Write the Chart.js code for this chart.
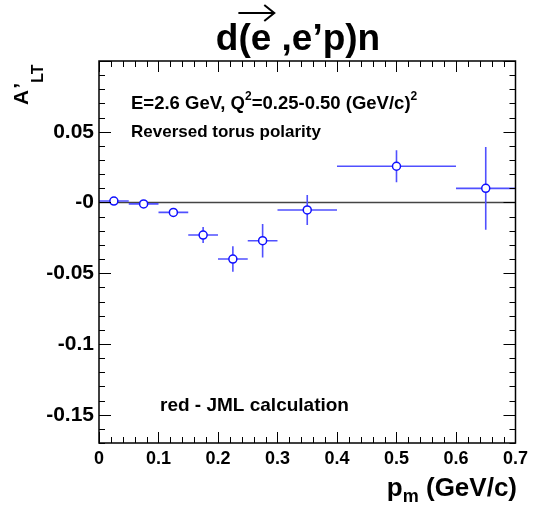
<!DOCTYPE html>
<html><head><meta charset="utf-8">
<script src="https://cdn.jsdelivr.net/npm/chart.js@4.4.1/dist/chart.umd.min.js"></script>
<style>html,body{margin:0;padding:0;background:#fff}#wrap{width:533px;height:506px}</style>
</head><body><div id="wrap"><canvas id="c"></canvas></div>
<script>
// ---- data ----
const pm     = [0.025, 0.075, 0.125, 0.175, 0.225, 0.275, 0.35, 0.5, 0.65];
const pmLow  = [0.0,   0.05,  0.1,   0.15,  0.2,   0.25,  0.3,  0.4, 0.6];
const pmHigh = [0.05,  0.1,   0.15,  0.2,   0.25,  0.3,   0.4,  0.6, 0.7];
const alt    = [0.001, -0.001, -0.007, -0.023, -0.040, -0.027, -0.0053, 0.0256, 0.010];
const altErr = [0.001, 0.001, 0.0015, 0.0057, 0.009, 0.0118, 0.0106, 0.0113, 0.0292];
const zeroLineX = [0, 0.7];
const zeroLineY = [0, 0];
const xTickValues = [0, 0.1, 0.2, 0.3, 0.4, 0.5, 0.6, 0.7];
const xTickLabels = ["0", "0.1", "0.2", "0.3", "0.4", "0.5", "0.6", "0.7"];
const yTickValues = [-0.15, -0.1, -0.05, 0, 0.05];
const yTickLabels = ["-0.15", "-0.1", "-0.05", "-0", "0.05"];

const FONT = '"Liberation Sans", Arial, Helvetica, sans-serif';

const errorBars = {
  id: 'errorBars',
  beforeDatasetDraw(chart, args) {
    if (args.index !== 1) return;
    const { ctx, scales: { x, y } } = chart;
    ctx.save();
    ctx.strokeStyle = '#5050ff';
    ctx.lineWidth = 1.6;
    ctx.beginPath();
    for (let i = 0; i < pm.length; i++) {
      const px = x.getPixelForValue(pm[i]);
      const py = y.getPixelForValue(alt[i]);
      ctx.moveTo(x.getPixelForValue(pmLow[i]), py);
      ctx.lineTo(x.getPixelForValue(pmHigh[i]), py);
      ctx.moveTo(px, y.getPixelForValue(alt[i] + altErr[i]));
      ctx.lineTo(px, y.getPixelForValue(alt[i] - altErr[i]));
    }
    ctx.stroke();
    ctx.restore();
  }
};

function drawParts(ctx, x, y, parts) {
  let cx = x;
  for (const [t, s, dy] of parts) {
    ctx.font = `bold ${s}px ${FONT}`;
    ctx.fillText(t, cx, y + dy);
    cx += ctx.measureText(t).width;
  }
  return cx;
}
function partsWidth(ctx, parts) {
  let w = 0;
  for (const [t, s] of parts) { ctx.font = `bold ${s}px ${FONT}`; w += ctx.measureText(t).width; }
  return w;
}

const decor = {
  id: 'decor',
  afterDraw(chart) {
    const { ctx, chartArea: a, scales: { x, y } } = chart;
    ctx.save();
    ctx.strokeStyle = '#000';
    ctx.lineWidth = 1;
    ctx.beginPath();
    for (let k = 0; k <= 35; k++) {
      const px = Math.round(x.getPixelForValue(k * 0.02)) + 0.5;
      const L = (k % 5 === 0) ? 11 : 6;
      ctx.moveTo(px, a.bottom); ctx.lineTo(px, a.bottom - L);
      ctx.moveTo(px, a.top); ctx.lineTo(px, a.top + L);
    }
    for (let k = -17; k <= 10; k++) {
      const py = Math.round(y.getPixelForValue(k * 0.01)) + 0.5;
      const L = (k % 5 === 0) ? 12 : 6;
      ctx.moveTo(a.left, py); ctx.lineTo(a.left + L, py);
      ctx.moveTo(a.right, py); ctx.lineTo(a.right - L, py);
    }
    ctx.stroke();
    ctx.lineWidth = 1.5;
    ctx.strokeRect(a.left, a.top, a.right - a.left, a.bottom - a.top);

    ctx.fillStyle = '#000';
    ctx.textBaseline = 'alphabetic';
    ctx.textAlign = 'left';

    // title with vector arrow over e
    const tParts = [["d(", 37, 0], ["e", 37, 0], [" ,e\u2019p)n", 37, 0]];
    const tw = partsWidth(ctx, tParts);
    const tx = 298 - tw / 2;
    drawParts(ctx, tx, 50, tParts);
    ctx.font = `bold 37px ${FONT}`;
    const xd = tx + ctx.measureText("d").width;
    const xeEnd = tx + ctx.measureText("d(e").width;
    ctx.lineWidth = 2;
    ctx.beginPath();
    ctx.moveTo(xd, 13); ctx.lineTo(xeEnd + 3, 13);
    ctx.moveTo(xeEnd - 7, 5); ctx.lineTo(xeEnd + 3, 13); ctx.lineTo(xeEnd - 7, 21);
    ctx.stroke();

    // annotations
    drawParts(ctx, 131, 109, [["E=2.6 GeV, Q", 18.5, 0], ["2", 12, -9], ["=0.25-0.50 (GeV/c)", 18.5, 0], ["2", 12, -9]]);
    drawParts(ctx, 131, 137, [["Reversed torus polarity", 17, 0]]);
    drawParts(ctx, 160, 411, [["red - JML calculation", 19, 0]]);

    // x axis title
    const xParts = [["p", 26, 0], ["m", 18, 6], [" (GeV/c)", 26, 0]];
    drawParts(ctx, 517 - partsWidth(ctx, xParts), 496, xParts);

    // y axis title (rotated)
    ctx.save();
    ctx.translate(28, 105);
    ctx.rotate(-Math.PI / 2);
    ctx.font = `bold 21px ${FONT}`;
    ctx.fillText("A", 0, 0);
    const aw = ctx.measureText("A").width;
    ctx.fillText("\u2019", aw + 1, 0);
    ctx.font = `bold 16px ${FONT}`;
    ctx.fillText("LT", aw + 7, 15);
    ctx.restore();

    ctx.restore();
  }
};

new Chart(document.getElementById('c'), {
  type: 'scatter',
  data: {
    datasets: [
      {
        type: 'line',
        data: zeroLineX.map((v, i) => ({ x: v, y: zeroLineY[i] })),
        borderColor: '#444444',
        borderWidth: 1.5,
        pointRadius: 0,
        order: 2
      },
      {
        data: pm.map((v, i) => ({ x: v, y: alt[i] })),
        pointStyle: 'circle',
        pointRadius: 4,
        pointBorderWidth: 1.5,
        pointBorderColor: '#1010ff',
        pointBackgroundColor: '#ffffff',
        showLine: false,
        order: 1
      }
    ]
  },
  options: {
    responsive: true,
    maintainAspectRatio: false,
    animation: false,
    events: [],
    layout: { padding: { left: 0, right: 15, top: 61, bottom: 0 } },
    plugins: { legend: { display: false }, tooltip: { enabled: false }, title: { display: false } },
    scales: {
      x: {
        type: 'linear', min: 0, max: 0.7,
        afterBuildTicks: s => { s.ticks = xTickValues.map(v => ({ value: v })); },
        afterFit: s => { s.height = 63; },
        grid: { display: false, drawTicks: false },
        border: { display: false },
        ticks: {
          padding: 5, color: '#000', maxRotation: 0, autoSkip: false,
          font: { family: FONT, size: 18, weight: 'bold' },
          callback: (v, i) => xTickLabels[i]
        }
      },
      y: {
        type: 'linear', min: -0.17, max: 0.1,
        afterBuildTicks: s => { s.ticks = yTickValues.map(v => ({ value: v })); },
        afterFit: s => { s.width = 99; },
        grid: { display: false, drawTicks: false },
        border: { display: false },
        ticks: {
          padding: 5, color: '#000', autoSkip: false,
          font: { family: FONT, size: 21, weight: 'bold' },
          callback: (v, i) => yTickLabels[i]
        }
      }
    }
  },
  plugins: [errorBars, decor]
});
</script>
</body></html>
